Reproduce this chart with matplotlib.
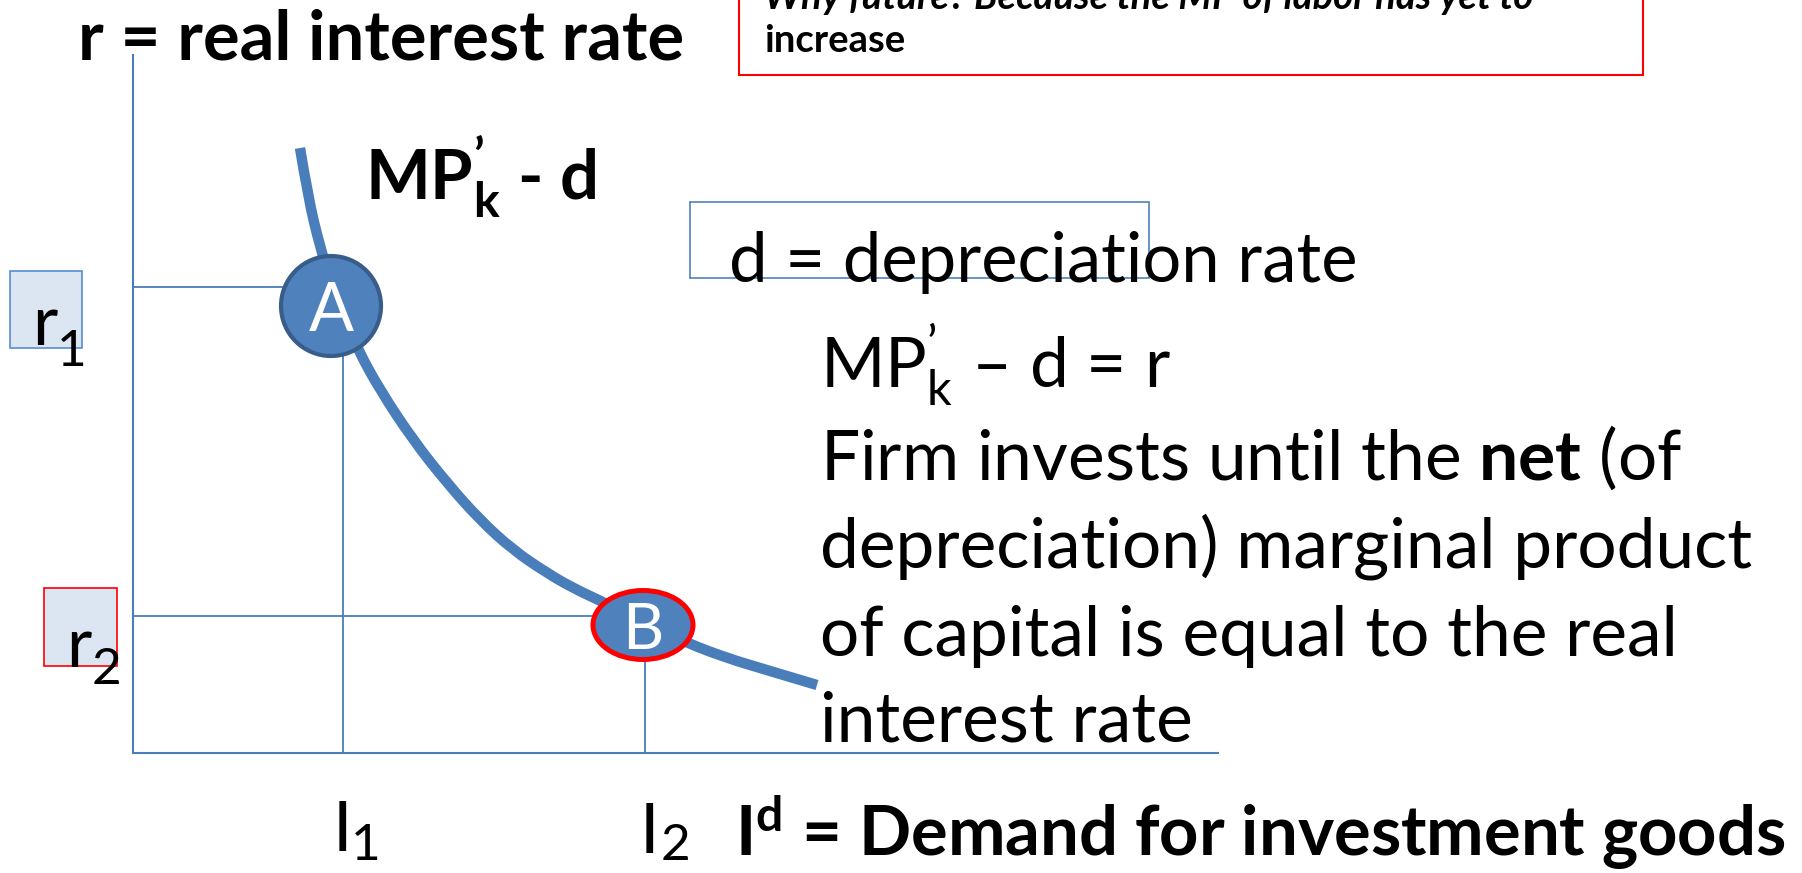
import numpy as np
import matplotlib.pyplot as plt
from matplotlib import patches
from matplotlib.path import Path

plt.rcParams['font.family'] = ['Lato', 'DejaVu Sans']
plt.rcParams['mathtext.fontset'] = 'custom'
plt.rcParams['mathtext.rm'] = 'Lato'
plt.rcParams['mathtext.it'] = 'Lato:italic'
plt.rcParams['mathtext.bf'] = 'Lato:bold'
plt.rcParams['mathtext.default'] = 'regular'

# MPk' - d curve (investment on x, real interest rate on y, origin at the axes corner)
curve_I = np.array([167, 175, 187, 203, 225, 247, 280, 314, 347, 380, 414, 440,
                    470, 512, 554, 594, 627, 684])
curve_r = np.array([605, 556, 506, 453, 403, 363, 313, 270, 233, 203, 180, 165,
                    151, 130, 110, 95, 85, 68])

r_levels = [466, 137]      # r1, r2
I_levels = [210, 512]      # I1, I2
point_A = (198, 447)
point_B = (510, 128)
r_axis_top = 698
I_axis_end = 1085

blue = '#4a7ebb'

fig = plt.figure(figsize=(18.02, 8.73), dpi=100)
ax = fig.add_axes([0, 0, 1, 1])
ax.set_xlim(-133, 1669)
ax.set_ylim(-120, 753)
ax.axis('off')

# axes of the diagram
ax.plot([0, 0], [0, r_axis_top], color=blue, lw=1.5, zorder=1)
ax.plot([0, I_axis_end], [0, 0], color=blue, lw=1.5, zorder=1)

# guide lines
for r, i in zip(r_levels, I_levels):
    ax.plot([0, i], [r, r], color=blue, lw=1.3, zorder=1)
    ax.plot([i, i], [0, r], color=blue, lw=1.3, zorder=1)

# curve: smooth quadratic path through the read points
pts = np.column_stack([curve_I, curve_r])
verts = [pts[0]]
codes = [Path.MOVETO]
for k in range(1, len(pts) - 1):
    verts += [pts[k], (pts[k] + pts[k + 1]) / 2]
    codes += [Path.CURVE3, Path.CURVE3]
verts.append(pts[-1])
codes.append(Path.LINETO)
ax.add_patch(patches.PathPatch(Path(verts, codes), fill=False, edgecolor=blue,
                               lw=7.5, capstyle='butt', zorder=2))

# points A and B
ax.add_patch(patches.Circle(point_A, 50, facecolor='#4f81bd', edgecolor='#385d8a',
                            lw=3, zorder=4))
ax.add_patch(patches.Ellipse(point_B, 100, 69, facecolor='#4f81bd', edgecolor='#ff0000',
                             lw=3.6, zorder=4))
ax.text(point_A[0], point_A[1] - 25, 'A', color='white', fontsize=48,
        ha='center', va='baseline', zorder=5)
ax.text(point_B[0], point_B[1] - 24, 'B', color='white', fontsize=46,
        ha='center', va='baseline', zorder=5)

# label boxes for r1 and r2
ax.add_patch(patches.Rectangle((-123, 405), 72, 77, facecolor='#dce6f2',
                               edgecolor='#558ed5', lw=1.2, zorder=1))
ax.add_patch(patches.Rectangle((-89, 87), 73, 78, facecolor='#dce6f2',
                               edgecolor='#ff0000', lw=1.2, zorder=1))
ax.text(-101, 408, 'r', fontsize=50, va='baseline', zorder=5)
ax.text(-76, 387, '1', fontsize=37, va='baseline', zorder=5)
ax.text(-67, 86, 'r', fontsize=50, va='baseline', zorder=5)
ax.text(-41, 69, '2', fontsize=37, va='baseline', zorder=5)

# axis labels
ax.text(-55, 693, 'r = real interest rate', fontsize=49.5, fontweight='bold', va='baseline')
ax.text(200, -98, 'I', fontsize=50, va='baseline')
ax.text(218, -107, '1', fontsize=37, va='baseline')
ax.text(507, -100, 'I', fontsize=50, va='baseline')
ax.text(528, -107, '2', fontsize=37, va='baseline')
ax.text(602, -103, 'I$^d$ = Demand for investment goods', fontsize=49.5,
        fontweight='bold', va='baseline')

# curve label
ax.text(232, 552, "MP$_k^{’}$ - d", fontsize=49.5, fontweight='bold', va='baseline')

# depreciation box
ax.add_patch(patches.Rectangle((557, 475), 459, 76, facecolor='none',
                               edgecolor='#4f81bd', lw=1.2, zorder=1))
ax.text(596, 471, 'd = depreciation rate', fontsize=49.5, va='baseline', zorder=5)

# explanation
lines = ["MP$_k^{’}$ – d = r",
         "Firm invests until the $\\mathbf{net}$ (of",
         "depreciation) marginal product",
         "of capital is equal to the real",
         "interest rate"]
baselines = [365, 273, 186, 97, 11]
for s, y in zip(lines, baselines):
    ax.text(687, y, s, fontsize=50, va='baseline', zorder=5)

# note box at the top (cut by the slide edge)
ax.add_patch(patches.Rectangle((606, 678), 904, 100, facecolor='white',
                               edgecolor='#ff0000', lw=1.5, zorder=1))
ax.text(631, 744, 'Why future? Because the MP of labor has yet to', fontsize=27.5,
        fontweight='bold', fontstyle='italic', va='baseline', zorder=5)
ax.text(631, 701, 'increase', fontsize=27.5, fontweight='bold', va='baseline', zorder=5)

plt.savefig('out.png', dpi=100)
